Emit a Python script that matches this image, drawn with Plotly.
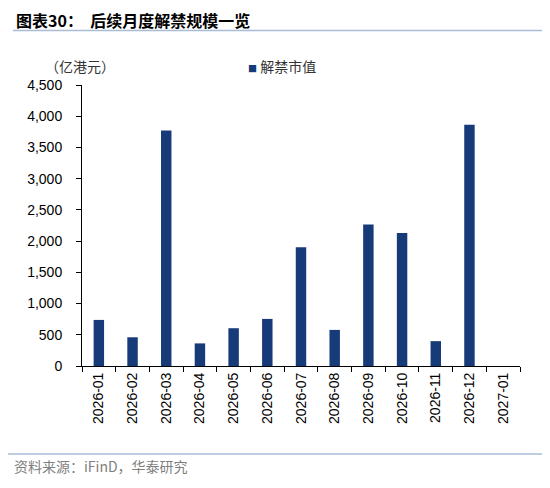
import plotly.graph_objects as go

months = ["2026-01", "2026-02", "2026-03", "2026-04", "2026-05", "2026-06", "2026-07",
          "2026-08", "2026-09", "2026-10", "2026-11", "2026-12", "2027-01"]
unlock_value = [738, 460, 3771, 362, 605, 754, 1900, 578, 2265, 2130, 398, 3864, 0]

# page has an 8px body margin, so the figure is drawn 8px lower/right
OFF = 8
W, H = 550 - OFF, 488 - OFF
L, R, T, B = 82 - OFF, 550 - 520, 85 - OFF, 488 - 366
pw, ph = W - L - R, H - T - B


# screen pixel -> paper coords for decorations outside the plot area
def px(x):
    return (x - OFF - L) / pw


def py(y):
    return (H - B - (y - OFF)) / ph


navy = "#173a79"
cjk = "Noto Sans CJK SC"
num = "Liberation Sans"

fig = go.Figure()
fig.add_trace(go.Bar(x=months, y=unlock_value, name="解禁市值", showlegend=False,
                     marker=dict(color=navy, line=dict(width=0))))

fig.update_layout(
    width=W, height=H,
    margin=dict(l=L, r=R, t=T, b=B),
    paper_bgcolor="white", plot_bgcolor="white",
    bargap=0.69,
    font=dict(family=num, size=14, color="black"),
)

fig.update_xaxes(type="category", tickangle=-90, tickson="boundaries",
                 ticks="outside", ticklen=5, tickcolor="black",
                 showline=True, linecolor="black", linewidth=1,
                 showgrid=False, tickfont=dict(family=num, size=14))
fig.update_yaxes(range=[0, 4500], dtick=500, tickformat=",",
                 ticks="outside", ticklen=5, tickcolor="black",
                 showline=True, linecolor="black", linewidth=1, ticklabelstandoff=11,
                 showgrid=False, zeroline=False, tickfont=dict(family=num, size=14))

fig.add_annotation(text="<b>图表30：  后续月度解禁规模一览</b>", xref="paper", yref="paper",
                   x=px(15), y=py(20), xanchor="left", yanchor="middle", showarrow=False,
                   borderpad=0, font=dict(family=cjk, size=16, color="black"))
fig.add_annotation(text="（亿港元）", xref="paper", yref="paper",
                   x=px(80), y=py(66), xanchor="center", yanchor="middle", showarrow=False,
                   font=dict(family=cjk, size=14, color="#333"))
# legend key
fig.add_annotation(text=f"<span style='color:{navy};font-size:9px'>■</span> 解禁市值",
                   xref="paper", yref="paper",
                   x=px(246), y=py(66), xanchor="left", yanchor="middle", showarrow=False,
                   font=dict(family=cjk, size=14, color="#333"))
fig.add_annotation(text="资料来源：iFinD，华泰研究", xref="paper", yref="paper",
                   x=px(12), y=py(466), xanchor="left", yanchor="middle", showarrow=False,
                   font=dict(family=cjk, size=14, color="#7f7f7f"))

fig.add_shape(type="line", xref="paper", yref="paper",
              x0=px(13), x1=px(550), y0=py(30.5), y1=py(30.5),
              line=dict(color="#a9bcd8", width=1.5))
fig.add_shape(type="line", xref="paper", yref="paper",
              x0=px(8), x1=px(543), y0=py(454), y1=py(454),
              line=dict(color="#a9bcd8", width=1.5))

fig.write_html("out.html")
